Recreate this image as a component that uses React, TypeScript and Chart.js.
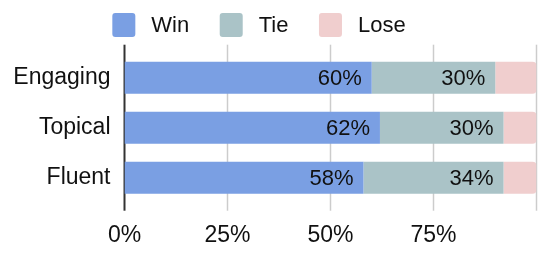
import React, { useEffect, useRef } from "react";
import { Chart, registerables } from "chart.js";

Chart.register(...registerables);

const categories = ["Engaging", "Topical", "Fluent"];
const seriesNames = ["Win", "Tie", "Lose"];
const winValues = [60, 62, 58];
const tieValues = [30, 30, 34];
const loseValues = [10, 8, 8];
const xTickValues = [0, 25, 50, 75, 100];
const xTickLabels = ["0%", "25%", "50%", "75%", ""];

const FONT = '"Liberation Sans", Arial, Helvetica, sans-serif';
const COLORS = ["rgb(122,159,227)", "rgb(170,195,199)", "rgb(240,206,206)"];

const gridPlugin = {
  id: "customGrid",
  beforeDatasetsDraw(chart: any) {
    const { ctx, chartArea, scales } = chart;
    ctx.save();
    xTickValues.forEach((v) => {
      const x = scales.x.getPixelForValue(v);
      ctx.beginPath();
      ctx.strokeStyle = v === 0 ? "#333333" : "#cccccc";
      ctx.lineWidth = v === 0 ? 2 : 1.5;
      ctx.moveTo(x, chartArea.top - 8);
      ctx.lineTo(x, chartArea.bottom + 8);
      ctx.stroke();
    });
    ctx.restore();
  },
};

const labelPlugin = {
  id: "barLabels",
  afterDatasetsDraw(chart: any) {
    const { ctx } = chart;
    ctx.save();
    ctx.font = `22px ${FONT}`;
    ctx.fillStyle = "#111111";
    ctx.textAlign = "right";
    ctx.textBaseline = "middle";
    chart.data.datasets.forEach((ds: any, di: number) => {
      const meta = chart.getDatasetMeta(di);
      meta.data.forEach((el: any, i: number) => {
        const v = ds.data[i];
        if (v < 15) return;
        ctx.fillText(`${v}%`, el.x - 10, el.y + 1);
      });
    });
    ctx.restore();
  },
};

const legendPlugin = {
  id: "customLegend",
  afterDraw(chart: any) {
    const { ctx } = chart;
    ctx.save();
    ctx.font = `22px ${FONT}`;
    const boxW = 23;
    const boxH = 24;
    const gap = 16;
    const pad = 30.5;
    const widths = chart.data.datasets.map(
      (ds: any) => boxW + gap + ctx.measureText(ds.label).width
    );
    const total = widths.reduce((a: number, b: number) => a + b, 0) + pad * (widths.length - 1);
    let x = 259 - total / 2;
    const cy = 25;
    chart.data.datasets.forEach((ds: any, i: number) => {
      ctx.fillStyle = ds.backgroundColor;
      ctx.beginPath();
      (ctx as any).roundRect(x, cy - boxH / 2, boxW, boxH, 3);
      ctx.fill();
      ctx.fillStyle = "#111111";
      ctx.textAlign = "left";
      ctx.textBaseline = "middle";
      ctx.fillText(ds.label, x + boxW + gap, cy + 1);
      x += widths[i] + pad;
    });
    ctx.restore();
  },
};

export default function App() {
  const ref = useRef<HTMLCanvasElement | null>(null);

  useEffect(() => {
    document.body.style.margin = "0";
    const canvas = ref.current;
    if (!canvas) return;
    const chart = new Chart(canvas, {
      type: "bar",
      data: {
        labels: categories,
        datasets: [
          { label: seriesNames[0], data: winValues, backgroundColor: COLORS[0] },
          { label: seriesNames[1], data: tieValues, backgroundColor: COLORS[1] },
          {
            label: seriesNames[2],
            data: loseValues,
            backgroundColor: COLORS[2],
            borderSkipped: false,
            borderRadius: { topLeft: 0, bottomLeft: 0, topRight: 4, bottomRight: 4 },
          },
        ],
      },
      options: {
        indexAxis: "y",
        responsive: false,
        animation: false,
        devicePixelRatio: 1,
        layout: { padding: { top: 52.7, right: 11.5, left: 0, bottom: 0 } },
        datasets: {
          bar: { categoryPercentage: 1, barPercentage: 0.64 },
        },
        plugins: {
          legend: { display: false },
          tooltip: { enabled: false },
        },
        scales: {
          x: {
            stacked: true,
            min: 0,
            max: 100,
            grid: { display: false, drawTicks: false },
            border: { display: false },
            afterBuildTicks(scale: any) {
              scale.ticks = xTickValues.map((v) => ({ value: v }));
            },
            afterFit(scale: any) {
              scale.height = 55.3;
              scale.paddingLeft = 0;
              scale.paddingRight = 0;
            },
            ticks: {
              padding: 19,
              color: "#111111",
              font: { family: FONT, size: 23 },
              maxRotation: 0,
              autoSkip: false,
              callback: (v: any) => {
                const idx = xTickValues.indexOf(Number(v));
                return idx >= 0 ? xTickLabels[idx] : "";
              },
            },
          },
          y: {
            stacked: true,
            grid: { display: false, drawTicks: false },
            border: { display: false },
            afterFit(scale: any) {
              scale.width = 124.5;
              scale.paddingTop = 0;
              scale.paddingBottom = 0;
            },
            ticks: {
              padding: 14,
              color: "#111111",
              font: { family: FONT, size: 23 },
            },
          },
        },
      },
      plugins: [gridPlugin, labelPlugin, legendPlugin],
    });
    return () => chart.destroy();
  }, []);

  return (
    <canvas
      ref={ref}
      width={548}
      height={258}
      style={{ display: "block", width: 548, height: 258 }}
    />
  );
}
